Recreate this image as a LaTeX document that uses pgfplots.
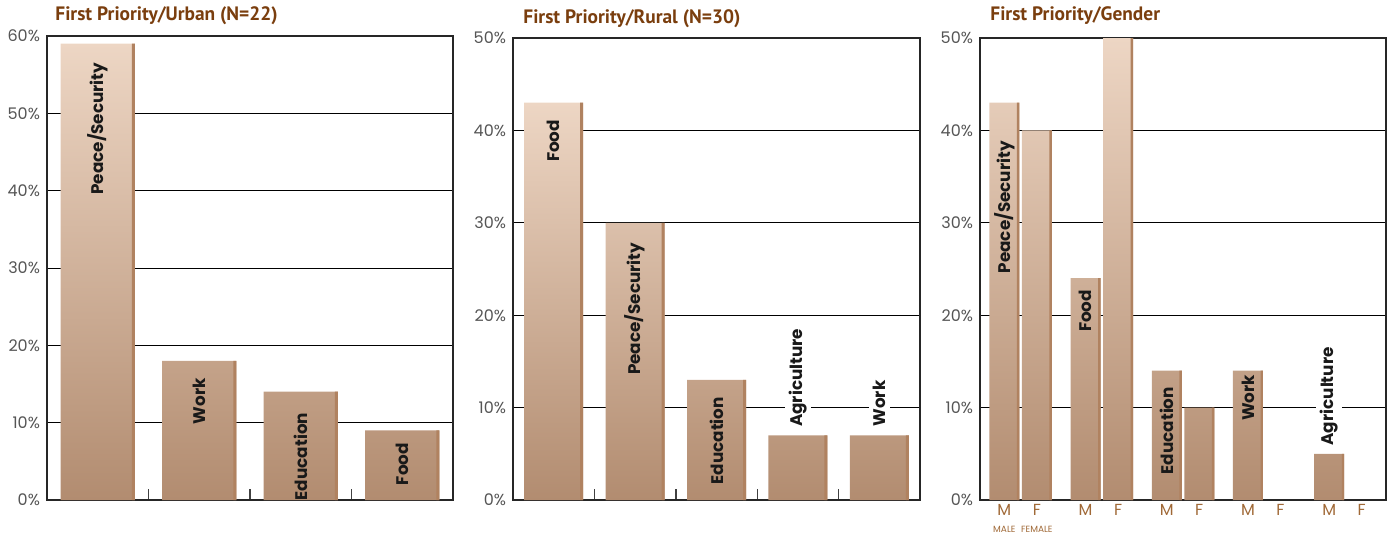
\documentclass[border=0pt]{standalone}
\usepackage{pgfplots}
\pgfplotsset{compat=1.18}
\usepackage{fontspec}
\setmainfont{Poppins}
\newfontfamily\titlefont{PT Sans}
\newfontfamily\labfont{Poppins}
\definecolor{titlebrown}{RGB}{122,62,14}
\definecolor{mfbrown}{RGB}{160,105,55}
\definecolor{bartop}{RGB}{237,214,196}
\definecolor{barbot}{RGB}{178,140,112}
\definecolor{barside}{RGB}{176,130,96}
\definecolor{tickgray}{RGB}{85,85,85}
\pgfplotsset{
  panel/.style={
    scale only axis, anchor=south west,
    ymin=0,
    axis line style={black!85, line width=0.6pt},
    ymajorgrids, grid style={black, line width=0.45pt},
    ytick style={draw=none},
    yticklabel={\pgfmathprintnumber{\tick}\%},
    /pgf/number format/assume math mode=true,
    yticklabel style={font=\fontsize{8}{9}\selectfont, text=tickgray},
    xtick pos=left,
    xtick style={black!75, line width=0.7pt},
    tick align=inside,
    major tick length=5.5pt,
    clip=false,
  },
  mainbar/.style={ybar, bar shift=0pt, draw=none, top color=bartop, bottom color=barbot},
  sidebar/.style={ybar, fill=barside, draw=none},
}
\tikzset{lab/.style={rotate=90, anchor=east, inner sep=1.5pt, font=\labfont\bfseries\fontsize{8.4}{9}\selectfont, text=black!90}}
\begin{document}
\begin{tikzpicture}
\useasboundingbox (0,0) rectangle (695pt,268.5pt);
% Panel 1
\begin{axis}[panel, at={(23.5pt,18.5pt)}, width=203pt, height=232pt,
  xmin=-0.5, xmax=3.5, ymax=60, ytick={0,10,20,30,40,50,60},
  xtick={0.5,1.5,2.5}, xticklabels={}]
\addplot[mainbar, bar width=37pt] coordinates {(0,59) (1,18) (2,14) (3,9)};
\addplot[sidebar, bar width=1.5pt, bar shift=17.75pt] coordinates {(0,59) (1,18) (2,14) (3,9)};
\node[lab] at (axis cs:0,57) {Peace/Security};
\node[lab] at (axis cs:1,16.2) {Work};
\node[lab] at (axis cs:2,11.7) {Education};
\node[lab] at (axis cs:3,7.8) {Food};
\end{axis}
\node[anchor=west, inner sep=0pt, font=\titlefont\bfseries\fontsize{9.7}{11}\selectfont, text=titlebrown] at (27.5pt,260.5pt) {First Priority/Urban (N=22)};
% Panel 2
\begin{axis}[panel, at={(256.5pt,18.5pt)}, width=203.5pt, height=231pt,
  xmin=-0.5, xmax=4.5, ymax=50, ytick={0,10,20,30,40,50},
  xtick={0.5,1.5,2.5,3.5}, xticklabels={}]
\addplot[mainbar, bar width=29.5pt] coordinates {(0,43) (1,30) (2,13) (3,7) (4,7)};
\addplot[sidebar, bar width=1.5pt, bar shift=14pt] coordinates {(0,43) (1,30) (2,13) (3,7) (4,7)};
\node[lab] at (axis cs:0,41.5) {Food};
\node[lab] at (axis cs:1,28.2) {Peace/Security};
\node[lab] at (axis cs:2,11.5) {Education};
\node[lab, fill=white, inner sep=2pt] at (axis cs:3,19) {Agriculture};
\node[lab, fill=white, inner sep=2pt] at (axis cs:4,13.4) {Work};
\end{axis}
\node[anchor=west, inner sep=0pt, font=\titlefont\bfseries\fontsize{9.7}{11}\selectfont, text=titlebrown] at (261.5pt,259pt) {First Priority/Rural (N=30)};
% Panel 3
\begin{axis}[panel, at={(490pt,18.5pt)}, width=203pt, height=231pt,
  xmin=-0.5, xmax=4.5, ymax=50, ytick={0,10,20,30,40,50},
  xtick={-0.2,0.2,0.8,1.2,1.8,2.2,2.8,3.2,3.8,4.2},
  xticklabels={M\\[-0.5pt]{\fontsize{4.5}{5}\selectfont MALE},F\\[-0.5pt]{\fontsize{4.5}{5}\selectfont FEMALE},M,F,M,F,M,F,M,F},
  xticklabel style={align=center, font=\fontsize{8}{9}\selectfont, text=mfbrown, inner sep=2pt},
  xtick style={draw=none},
  extra x ticks={0.5,1.5,2.5,3.5}, extra x tick labels={},
  extra x tick style={xtick style={black!75, line width=0.7pt}}]
\addplot[mainbar, bar width=15pt] coordinates {(-0.2,43) (0.2,40) (0.8,24) (1.2,50) (1.8,14) (2.2,10) (2.8,14) (3.8,5)};
\addplot[sidebar, bar width=1.2pt, bar shift=6.9pt] coordinates {(-0.2,43) (0.2,40) (0.8,24) (1.2,50) (1.8,14) (2.2,10) (2.8,14) (3.8,5)};
\node[lab] at (axis cs:-0.2,39.2) {Peace/Security};
\node[lab] at (axis cs:0.8,23.1) {Food};
\node[lab] at (axis cs:1.8,12.6) {Education};
\node[lab] at (axis cs:2.8,13.9) {Work};
\node[lab, fill=white, inner sep=2pt] at (axis cs:3.8,17) {Agriculture};
\end{axis}
\node[anchor=west, inner sep=0pt, font=\titlefont\bfseries\fontsize{9.7}{11}\selectfont, text=titlebrown] at (495pt,260.5pt) {First Priority/Gender};
\end{tikzpicture}
\end{document}
